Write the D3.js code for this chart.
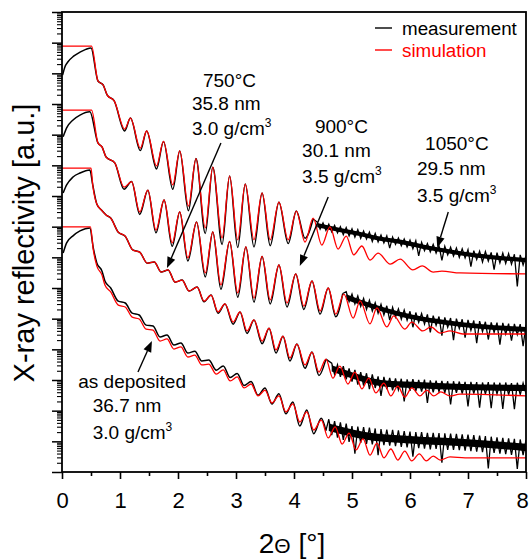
<!DOCTYPE html>
<html><head><meta charset="utf-8">
<script src="https://cdn.jsdelivr.net/npm/d3@7"></script>
<style>body{margin:0;background:#fff;} svg{display:block;font-family:"Liberation Sans",Arial,sans-serif;}</style>
</head><body><svg id="c" width="530" height="560"></svg>
<script>
// ---------- data (2θ in degrees, reflectivity as log10 of arbitrary units) ----------
const xTicks = [0,1,2,3,4,5,6,7,8];
const xMinorTicks = [0.5,1.5,2.5,3.5,4.5,5.5,6.5,7.5];
const samples = ["1050°C","900°C","750°C","as deposited"];
const thickness = ["29.5 nm","30.1 nm","35.8 nm","36.7 nm"];
const densityTxt = ["3.5 g/cm","3.5 g/cm","3.0 g/cm","3.0 g/cm"];
const legendLabels = ["measurement","simulation"];

// simulations
const simA = [[0,13.89],[0.51,13.89],[0.62,12.75],[0.71,12.62],[0.78,12.29],[0.90,12.10],[1.08,11.18],[1.18,11.54],[1.35,10.56],[1.46,11.12],[1.63,9.98],[1.75,10.78],[1.91,9.36],[2.03,10.47],[2.18,8.67],[2.31,10.22],[2.47,7.96],[2.60,9.94],[2.76,7.63],[2.89,9.65],[3.03,7.57],[3.16,9.39],[3.31,7.57],[3.45,9.10],[3.59,7.57],[3.74,8.80],[3.90,7.57],[4.04,8.51],[4.19,7.50],[4.33,8.28],[4.48,7.40],[4.62,7.99],[4.76,7.27],[4.90,7.69],[5.03,7.08],[5.17,7.37],[5.31,6.91],[5.45,7.14],[5.66,6.78],[5.83,6.94],[6.05,6.59],[6.21,6.72],[6.40,6.52],[6.55,6.55],[6.86,6.49],[8.0,6.46]];
const simB = [[0,11.80],[0.51,11.80],[0.62,10.73],[0.69,10.60],[0.76,10.27],[0.91,10.08],[1.07,9.29],[1.20,9.47],[1.34,8.48],[1.48,9.19],[1.62,7.89],[1.76,8.87],[1.90,7.47],[2.03,8.48],[2.17,6.98],[2.32,8.15],[2.47,6.49],[2.60,7.83],[2.74,6.10],[2.89,7.52],[3.03,5.84],[3.17,7.34],[3.31,5.67],[3.45,7.03],[3.59,5.61],[3.74,6.75],[3.88,5.51],[4.03,6.46],[4.17,5.41],[4.31,6.23],[4.45,5.25],[4.59,6.00],[4.72,5.15],[4.86,5.80],[5.02,5.02],[5.14,5.58],[5.31,4.83],[5.43,5.35],[5.60,4.73],[5.72,5.09],[5.91,4.66],[6.03,4.89],[6.22,4.60],[6.36,4.73],[6.52,4.53],[6.69,4.60],[6.91,4.50],[8.0,4.50]];
const simC = [[0,9.91],[0.50,9.91],[0.53,9.36],[0.60,8.74],[0.68,8.54],[0.76,8.38],[0.84,8.28],[0.97,7.82],[1.09,7.69],[1.22,7.24],[1.34,7.17],[1.47,6.81],[1.59,6.85],[1.71,6.52],[1.83,6.59],[1.95,6.19],[2.07,6.26],[2.19,5.90],[2.33,6.03],[2.45,5.57],[2.57,5.77],[2.69,5.22],[2.81,5.48],[2.95,4.89],[3.07,5.22],[3.19,4.60],[3.31,4.96],[3.45,4.27],[3.57,4.69],[3.69,3.98],[3.81,4.43],[3.93,3.72],[4.05,4.17],[4.19,3.49],[4.31,3.91],[4.43,3.26],[4.55,3.68],[4.67,3.06],[4.79,3.45],[4.93,2.87],[5.05,3.26],[5.17,2.71],[5.29,3.06],[5.41,2.58],[5.55,2.90],[5.67,2.48],[5.79,2.80],[5.91,2.44],[6.03,2.74],[6.17,2.48],[6.29,2.67],[6.41,2.48],[6.53,2.61],[6.69,2.48],[6.86,2.54],[8.0,2.48]];
const simD = [[0,7.99],[0.49,7.99],[0.54,7.24],[0.60,6.72],[0.69,6.42],[0.74,6.10],[0.84,5.87],[0.97,5.44],[1.09,5.38],[1.21,5.05],[1.33,4.99],[1.45,4.66],[1.57,4.63],[1.69,4.27],[1.81,4.34],[1.93,4.01],[2.05,4.08],[2.17,3.75],[2.29,3.81],[2.41,3.49],[2.53,3.52],[2.66,3.19],[2.78,3.33],[2.90,2.97],[3.02,3.10],[3.14,2.74],[3.26,2.87],[3.38,2.48],[3.50,2.67],[3.62,2.25],[3.74,2.48],[3.86,1.96],[3.98,2.22],[4.10,1.63],[4.22,1.96],[4.34,1.37],[4.47,1.69],[4.59,1.11],[4.71,1.47],[4.83,0.91],[4.95,1.27],[5.07,0.72],[5.19,1.08],[5.31,0.55],[5.43,0.94],[5.55,0.46],[5.67,0.75],[5.79,0.39],[5.91,0.68],[6.03,0.36],[6.16,0.59],[6.28,0.36],[6.40,0.52],[6.52,0.39],[6.69,0.49],[6.95,0.46],[8.0,0.46]];

// measurements: low-angle + fringe region
const measA = [[0.01,12.94],[0.05,13.21],[0.10,13.37],[0.20,13.56],[0.31,13.69],[0.41,13.78],[0.50,13.83],[0.62,12.75],[0.71,12.62],[0.78,12.29],[0.90,12.10],[1.08,11.12],[1.18,11.54],[1.35,10.48],[1.46,11.12],[1.63,9.88],[1.75,10.78],[1.91,9.22],[2.03,10.47],[2.18,8.52],[2.31,10.22],[2.47,7.78],[2.60,9.94],[2.76,7.42],[2.89,9.65],[3.03,7.32],[3.16,9.39],[3.31,7.34],[3.45,9.10],[3.59,7.38],[3.74,8.80],[3.90,7.45],[4.04,8.51],[4.19,7.62],[4.33,8.25]];
const measB = [[0.02,10.93],[0.08,11.22],[0.19,11.48],[0.31,11.64],[0.48,11.75],[0.62,10.73],[0.69,10.60],[0.76,10.27],[0.91,10.08],[1.07,9.22],[1.20,9.47],[1.34,8.40],[1.48,9.19],[1.62,7.80],[1.76,8.87],[1.90,7.36],[2.03,8.48],[2.17,6.88],[2.32,8.15],[2.47,6.36],[2.60,7.83],[2.74,5.96],[2.89,7.52],[3.03,5.70],[3.17,7.34],[3.31,5.54],[3.45,7.03],[3.59,5.48],[3.74,6.75],[3.88,5.38],[4.03,6.46],[4.17,5.30],[4.31,6.23],[4.45,5.15],[4.59,6.00],[4.72,5.06],[4.84,5.82]];
const measC = [[0.02,9.10],[0.08,9.36],[0.19,9.62],[0.31,9.75],[0.48,9.85],[0.53,9.36],[0.60,8.74],[0.68,8.54],[0.76,8.38],[0.84,8.28],[0.97,7.82],[1.09,7.69],[1.22,7.24],[1.34,7.17],[1.47,6.81],[1.59,6.85],[1.71,6.52],[1.83,6.59],[1.95,6.19],[2.07,6.26],[2.19,5.90],[2.33,6.03],[2.45,5.55],[2.57,5.77],[2.69,5.18],[2.81,5.48],[2.95,4.82],[3.07,5.22],[3.19,4.52],[3.31,4.96],[3.45,4.18],[3.57,4.69],[3.69,3.88],[3.81,4.43],[3.93,3.62],[4.05,4.17],[4.19,3.38],[4.31,3.91],[4.43,3.15],[4.55,3.68]];
const measD = [[0.02,7.14],[0.08,7.47],[0.19,7.70],[0.31,7.86],[0.48,7.96],[0.54,7.30],[0.60,6.82],[0.69,6.55],[0.74,6.23],[0.84,6.00],[0.97,5.57],[1.09,5.51],[1.21,5.18],[1.33,5.12],[1.45,4.79],[1.57,4.76],[1.69,4.40],[1.81,4.47],[1.93,4.14],[2.05,4.21],[2.17,3.88],[2.29,3.94],[2.41,3.62],[2.53,3.65],[2.66,3.32],[2.78,3.46],[2.90,3.08],[3.02,3.21],[3.14,2.82],[3.26,2.95],[3.38,2.50],[3.50,2.74],[3.62,2.22],[3.74,2.55],[3.86,1.90],[3.98,2.28],[4.10,1.50],[4.22,2.02],[4.34,1.25],[4.47,1.75],[4.55,1.35]];

// noisy high-angle measurement tails (scan step 0.05°)
const tailStep = 0.05;
const tailStarts = [4.40, 4.90, 4.65, 4.60];
const tailA = [8.15,7.92,8.12,7.88,8.08,7.83,8.04,7.80,8.00,7.74,
 7.97,7.70,7.93,7.66,7.90,7.62,7.86,7.60,7.82,7.52,
 7.78,7.50,7.73,7.47,7.70,7.30,7.66,7.42,7.63,7.38,
 7.60,7.34,7.56,7.28,7.54,7.05,7.49,7.22,7.45,7.18,
 7.42,7.14,7.38,6.90,7.36,7.08,7.33,7.04,7.30,7.00,
 7.28,6.98,7.25,6.70,7.22,6.93,7.20,6.85,7.19,6.88,
 7.16,6.60,7.15,6.82,7.14,6.80,7.12,6.78,7.10,6.05,
 7.08,6.75,7.05];
const tailB = [5.88,5.55,5.80,5.48,5.74,5.40,5.66,5.30,5.60,5.25,
 5.52,5.18,5.47,5.12,5.42,4.95,5.37,5.05,5.32,4.98,
 5.28,4.95,5.24,4.72,5.20,4.88,5.17,4.82,5.14,4.55,
 5.10,4.78,5.07,4.45,5.04,4.72,5.02,4.30,5.00,4.68,
 4.98,4.38,4.96,4.62,4.94,4.20,4.92,4.58,4.90,4.32,
 4.88,4.55,4.87,4.15,4.86,4.50,4.84,4.28,4.83,4.48,
 4.82,4.10,4.80];
const tailC = [3.55,3.18,3.50,3.10,3.45,3.02,3.38,
 2.95,3.33,2.85,3.26,2.82,3.22,2.70,3.18,2.74,3.12,
 2.48,3.10,2.70,3.07,2.66,3.05,2.68,3.04,2.30,3.02,
 2.65,3.03,2.64,3.00,2.62,3.01,2.25,2.99,2.60,2.98,
 2.62,2.97,2.58,2.96,2.20,2.96,2.58,2.95,2.56,2.94,
 2.14,2.94,2.56,2.93,2.10,2.92,2.54,2.93,2.08,2.92,
 2.55,2.91,2.06,2.92,2.52,2.90,2.05,2.91,2.52,2.90,
 2.55];
const tailD = [1.72,1.20,1.66,1.12,1.62,1.05,1.58,0.98,
 1.50,0.60,1.48,0.95,1.46,0.92,1.45,0.90,1.42,0.55,
 1.40,0.88,1.38,0.86,1.37,0.84,1.36,0.82,1.33,0.80,
 1.32,0.50,1.30,0.78,1.30,0.76,1.28,0.74,1.28,0.75,
 1.27,0.30,1.26,0.72,1.25,0.72,1.24,0.71,1.23,0.70,
 1.22,0.68,1.20,0.66,1.19,0.65,1.17,0.12,1.15,0.62,
 1.13,0.60,1.11,0.58,1.10,0.56,1.08,0.10,1.06,0.55,
 1.04];
// dense core of the noise band: [2θ, low, high]
const bandA = [[4.40,7.98,8.12],[4.80,7.82,7.96],[5.15,7.69,7.83],[5.50,7.53,7.67],[5.85,7.43,7.57],[6.35,7.23,7.37],[6.85,7.07,7.21],[7.40,6.94,7.08],[8.00,6.84,6.98]];
const bandB = [[4.90,5.62,5.80],[5.15,5.45,5.62],[5.50,5.24,5.40],[6.05,4.97,5.13],[6.60,4.80,4.96],[7.20,4.67,4.83],[8.00,4.57,4.73]];
const bandC = [[4.65,3.28,3.48],[4.85,3.15,3.35],[5.15,2.96,3.16],[5.50,2.80,3.00],[6.05,2.74,2.94],[6.90,2.67,2.87],[8.00,2.64,2.84]];
const bandD = [[4.60,1.34,1.58],[5.20,1.07,1.31],[6.00,0.93,1.17],[7.00,0.83,1.07],[8.00,0.68,0.92]];

// annotation anchors in data units [2θ, log10 R]
const labelPos = [ [[6.26,10.50],[6.12,9.69],[6.12,8.80]],
                   [[4.36,11.05],[4.14,10.27],[4.14,9.42]],
                   [[2.43,12.55],[2.24,11.80],[2.24,10.99]],
                   [[0.28,2.74],[0.53,1.96],[0.53,1.08]] ];
const arrowFrom = [[6.66,8.48],[4.59,8.97],[2.74,10.73],[1.31,3.26]];
const arrowTo   = [[6.47,7.31],[4.10,6.72],[1.81,6.65],[1.55,4.27]];

// ---------- drawing ----------
const svg = d3.select('#c');
const FONT = '"Liberation Sans", Arial, sans-serif';
const L=62, R=526, T=12, B=472;
const x = d3.scaleLinear().domain([0,8]).range([L,R]);
const y = d3.scaleLog().domain([1,1e15]).range([B,T]);
const Y = v => y(Math.pow(10,v));

svg.append('rect').attr('width',530).attr('height',560).attr('fill','#fff');
svg.append('defs').append('clipPath').attr('id','clip').append('rect')
  .attr('x',L).attr('y',T).attr('width',R-L).attr('height',B-T);

const smooth = d3.line().x(d=>x(d[0])).y(d=>Y(d[1])).curve(d3.curveMonotoneX);
const straight = d3.line().x(d=>x(d[0])).y(d=>Y(d[1]));
const bandArea = d3.area().x(d=>x(d[0])).y0(d=>Y(d[1])).y1(d=>Y(d[2])).curve(d3.curveMonotoneX);

const series = [
  {sim:simA, meas:measA, tail:tailA, band:bandA, start:tailStarts[0]},
  {sim:simB, meas:measB, tail:tailB, band:bandB, start:tailStarts[1]},
  {sim:simC, meas:measC, tail:tailC, band:bandC, start:tailStarts[2]},
  {sim:simD, meas:measD, tail:tailD, band:bandD, start:tailStarts[3]}
];
const plot = svg.append('g').attr('clip-path','url(#clip)');
series.forEach(s=>{
  plot.append('path').attr('d',smooth(s.meas)).attr('fill','none')
    .attr('stroke','#000').attr('stroke-width',1.5).attr('stroke-linejoin','round');
  plot.append('path').attr('d',bandArea(s.band)).attr('fill','#000');
  const tp = [s.meas[s.meas.length-1]].concat(s.tail.map((v,i)=>[s.start+i*tailStep, v]));
  plot.append('path').attr('d',straight(tp)).attr('fill','none')
    .attr('stroke','#000').attr('stroke-width',1.3);
});
series.forEach(s=>{
  plot.append('path').attr('d',smooth(s.sim)).attr('fill','none')
    .attr('stroke','#ff0000').attr('stroke-width',1.3);
});

// axes
const yMajor = [], yMinor = [];
for (let k=0;k<=15;k++){ yMajor.push(Math.pow(10,k)); if(k<15) for(let m=2;m<=9;m++) yMinor.push(m*Math.pow(10,k)); }

const gx = svg.append('g').attr('transform',`translate(0,${B})`)
  .call(d3.axisBottom(x).tickValues(xTicks).tickSize(7).tickPadding(13).tickFormat(d3.format('d')));
gx.attr('font-family',FONT).attr('font-size',22);
gx.select('.domain').remove();
gx.selectAll('line').attr('stroke-width',1.6);
gx.selectAll('text').attr('fill','#000');
gx.selectAll('.tick').filter(d=>d===8).select('text').attr('dx',-4);
const gxm = svg.append('g').attr('transform',`translate(0,${B})`)
  .call(d3.axisBottom(x).tickValues(xMinorTicks).tickSize(4).tickFormat(''));
gxm.select('.domain').remove();
gxm.selectAll('line').attr('stroke-width',1.6);

const gy = svg.append('g').attr('transform',`translate(${L},0)`)
  .call(d3.axisLeft(y).tickValues(yMajor).tickSize(10).tickFormat(''));
gy.select('.domain').remove();
gy.selectAll('line').attr('stroke-width',1.5);
const gym = svg.append('g').attr('transform',`translate(${L},0)`)
  .call(d3.axisLeft(y).tickValues(yMinor).tickSize(5).tickFormat(''));
gym.select('.domain').remove();
gym.selectAll('line').attr('stroke-width',1.1);

// frame
svg.append('rect').attr('x',L).attr('y',T).attr('width',R-L).attr('height',B-T)
  .attr('fill','none').attr('stroke','#000').attr('stroke-width',1.8);

// axis titles
const xt = svg.append('text').attr('x',292).attr('y',553).attr('text-anchor','middle')
  .attr('font-family',FONT).attr('font-size',28).attr('fill','#000');
xt.append('tspan').text('2');
xt.append('tspan').attr('font-size',21).text('Θ');
xt.append('tspan').text(' [°]');
svg.append('text').attr('transform','translate(34,243) rotate(-90)').attr('text-anchor','middle')
  .attr('font-family',FONT).attr('font-size',29).attr('fill','#000').text('X-ray reflectivity [a.u.]');

// legend
const lg = svg.append('g').attr('font-family',FONT).attr('font-size',18.8);
[['#000',28,35],['#ff0000',50,57]].forEach((c,i)=>{
  lg.append('line').attr('x1',375).attr('x2',392).attr('y1',c[1]).attr('y2',c[1])
    .attr('stroke',c[0]).attr('stroke-width',1.4);
  lg.append('text').attr('x',402).attr('y',c[2]).attr('fill',c[0]).text(legendLabels[i]);
});

// annotations
const ann = svg.append('g').attr('font-family',FONT).attr('font-size',19).attr('fill','#000');
samples.forEach((s,i)=>{
  const p = labelPos[i];
  ann.append('text').attr('x',x(p[0][0])).attr('y',Y(p[0][1])).text(s);
  ann.append('text').attr('x',x(p[1][0])).attr('y',Y(p[1][1])).text(thickness[i]);
  const t = ann.append('text').attr('x',x(p[2][0])).attr('y',Y(p[2][1])).text(densityTxt[i]);
  t.append('tspan').attr('font-size',12).attr('dy',-8).text('3');
  const x1=x(arrowFrom[i][0]), y1=Y(arrowFrom[i][1]), x2=x(arrowTo[i][0]), y2=Y(arrowTo[i][1]);
  const dx=x2-x1, dy=y2-y1, len=Math.hypot(dx,dy), ux=dx/len, uy=dy/len;
  const hl=11, hw=4.2;
  const bx=x2-ux*hl, by=y2-uy*hl;
  ann.append('line').attr('x1',x1).attr('y1',y1).attr('x2',bx).attr('y2',by)
    .attr('stroke','#000').attr('stroke-width',1.4);
  ann.append('path').attr('d',`M${x2},${y2}L${bx-uy*hw},${by+ux*hw}L${bx+uy*hw},${by-ux*hw}Z`).attr('fill','#000');
});
</script></body></html>
